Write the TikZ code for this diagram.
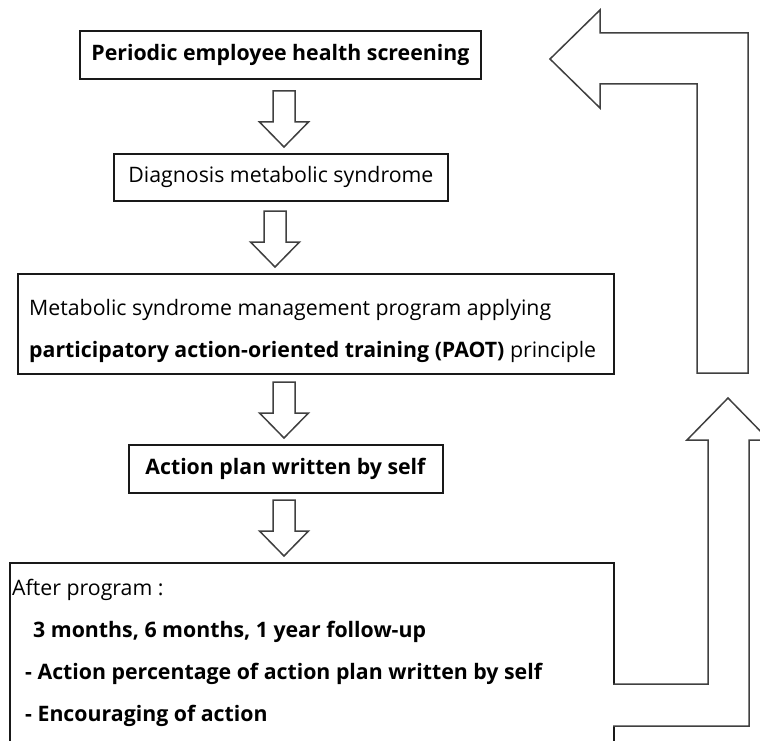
\documentclass[tikz,border=0pt]{standalone}
\usepackage{fontspec}
\setmainfont{Open Sans}
\usetikzlibrary{calc}

\begin{document}
\begin{tikzpicture}[x=1pt,y=-1pt,
  box/.style={draw=black!90,line width=1.8pt,inner sep=0pt,font=\fontsize{21.3}{26}\selectfont},
  txt/.style={font=\fontsize{21.3}{42}\selectfont,align=left,inner sep=0pt},
  hollow/.style={draw=black!75,line width=1.5pt,fill=white,line join=miter}
]
\useasboundingbox (0,0) rectangle (760,741);
\clip (0,0) rectangle (760,741);
%--- flow boxes ---
\node[box,anchor=north west,minimum width=401pt,minimum height=48pt] (screen) at (79,30)
  {\textbf{Periodic employee health screening}};
\node[box,anchor=north west,minimum width=334pt,minimum height=47pt] (diag) at (113,153)
  {Diagnosis metabolic syndrome};
\node[box,anchor=north west,minimum width=596pt,minimum height=100pt] (prog) at (17,273) {};
\node[txt,anchor=west] (progtext) at (29,331)
  {Metabolic syndrome management program applying\\
   \textbf{participatory action-oriented training (PAOT)} principle};
\node[box,anchor=north west,minimum width=314pt,minimum height=48pt] (plan) at (128,444)
  {\textbf{Action plan written by self}};
\node[box,anchor=north west,minimum width=604pt,minimum height=220pt] (follow) at (9,562) {};
\node[txt,anchor=north west] (followtext) at (12,579)
  {After program :\\
   \hspace*{21pt}\textbf{3 months, 6 months, 1 year follow-up}\\
   \hspace*{13pt}\textbf{- Action percentage of action plan written by self}\\
   \hspace*{13pt}\textbf{- Encouraging of action}};
%--- down arrows between boxes ---
\foreach \from/\to/\ax in {screen/diag/284,diag/prog/275,prog/plan/284,plan/follow/284}{
  \coordinate (ax) at (\ax,0);
  \path (\to.north -| ax) ++(0,-6) coordinate (tip);
  \draw[hollow] (tip) -- ++(-24.5,-25) -- ++(13.5,0) -- ++(0,-31) -- ++(22,0)
    -- ++(0,31) -- ++(13.5,0) -- cycle;
}
%--- feedback arrows on the right ---
\draw[hollow] (600,10) -- (550,59) -- (600,108) -- (600,84) -- (697,84) -- (697,373)
  -- (748,373) -- (748,33) -- (600,33) -- cycle;
\draw[hollow] (613,684) -- (708,684) -- (708,440) -- (687,440) -- (728,398)
  -- (769,440) -- (749,440) -- (749,726) -- (613,726);
\end{tikzpicture}
\end{document}
